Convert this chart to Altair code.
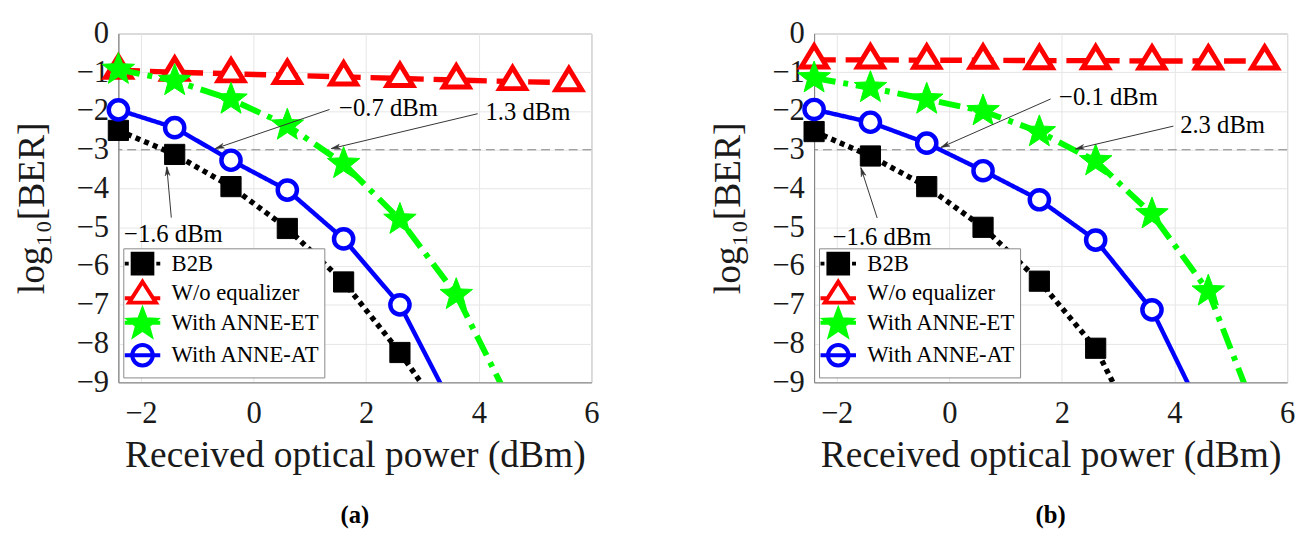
import math
import altair as alt
import pandas as pd

# ---------------- data ----------------
X_POWER = [-2.4, -1.4, -0.4, 0.6, 1.6, 2.6, 3.6, 4.6, 5.6]
SERIES = ["B2B", "W/o equalizer", "With ANNE-ET", "With ANNE-AT"]
X_TICKS = [-2, 0, 2, 4, 6]
Y_TICKS = [0, -1, -2, -3, -4, -5, -6, -7, -8, -9]
THRESHOLD = [-3]

# panel (a)
A_B2B = [-2.50, -3.12, -3.95, -5.03, -6.41, -8.23, -10.31]
A_WOEQ = [-0.95, -1.00, -1.04, -1.08, -1.12, -1.16, -1.20, -1.24, -1.27]
A_ET = [-0.93, -1.22, -1.70, -2.37, -3.36, -4.80, -6.74, -9.64]
A_AT = [-1.97, -2.43, -3.27, -4.04, -5.30, -7.00, -9.82]

A_ANN_TEXT = ["\u22120.7 dBm", "1.3 dBm", "\u22121.6 dBm"]
A_ANN_TX = [1.52, 4.12, -2.30]
A_ANN_TY = [-1.92, -2.04, -5.18]
A_ARR_X0 = [1.35, 3.98, -1.46]
A_ARR_Y0 = [-1.96, -2.07, -4.75]
A_ARR_X1 = [-0.68, 1.38, -1.54]
A_ARR_Y1 = [-2.97, -2.97, -3.44]

# panel (b)
B_B2B = [-2.53, -3.16, -3.95, -5.00, -6.39, -8.12, -11.00]
B_WOEQ = [-0.68, -0.68, -0.69, -0.69, -0.70, -0.70, -0.71, -0.71, -0.71]
B_ET = [-1.15, -1.40, -1.70, -2.00, -2.54, -3.29, -4.66, -6.65, -10.38]
B_AT = [-1.96, -2.29, -2.83, -3.54, -4.29, -5.33, -7.13, -10.10]

B_ANN_TEXT = ["\u22120.1 dBm", "2.3 dBm", "\u22121.6 dBm"]
B_ANN_TX = [1.95, 4.10, -2.07]
B_ANN_TY = [-1.63, -2.36, -5.25]
B_ARR_X0 = [1.80, 3.98, -1.28]
B_ARR_Y0 = [-1.69, -2.39, -4.76]
B_ARR_X1 = [-0.15, 2.24, -1.57]
B_ARR_Y1 = [-2.94, -2.98, -3.46]

# ---------------- style ----------------
W, H = 480, 354
XDOM = [-2.4, 6]
YDOM = [-9, 0]
FONT = "Liberation Serif"


def star_path(R, ratio=0.42, dy=0.0):
    pts = []
    for k in range(10):
        a = math.radians(-90 + 36 * k)
        r = R if k % 2 == 0 else R * ratio
        pts.append(f"{r * math.cos(a):.3f},{r * math.sin(a) + dy:.3f}")
    return "M" + "L".join(pts) + "Z"


TRI = "M0,-1.1L1,0.55L-1,0.55Z"
STAR = star_path(1.0)
ARROW = "M0,0L-0.5,1.8L0,1.3L0.5,1.8Z"

# legend symbols drawn at symbolSize 256 (unit = 8 px)
LEG_PATHS = [
    "M-1.25,-1.25H1.25V1.25H-1.25Z M-2.25,0H-1.75 M1.75,0H2.25",
    "M0,-1.45L1.7,1.2L-1.7,1.2Z M-2.25,0.65H-1.4 M1.4,0.65H2.25",
    star_path(1.75, dy=0.15) + " M-2.25,0H-1.1 M1.1,0H2.25",
    "M1.3,0A1.3,1.3,0,1,1,-1.3,0A1.3,1.3,0,1,1,1.3,0Z M-2.25,0H2.25",
]
LEG_FILL = ["black", "white", "#00ff00", "white"]
LEG_STROKE = ["black", "#ff0000", "#00ff00", "#0000ff"]

STYLES = [
    dict(color="black", lw=5.5, dash=[5, 4.5], shape="square", size=420, fill="black", stroke="black", sw=1),
    dict(color="#ff0000", lw=5.5, dash=[22, 10], shape=TRI, size=680, fill="white", stroke="#ff0000", sw=5),
    dict(color="#00ff00", lw=6, dash=[22, 8, 5, 8], shape=STAR, size=1200, fill="#00ff00", stroke="#00ff00", sw=1),
    dict(color="#0000ff", lw=4.5, dash=[1, 0], shape="circle", size=380, fill="white", stroke="#0000ff", sw=4.5),
]

XS = alt.Scale(domain=XDOM, nice=False, zero=False)
YS = alt.Scale(domain=YDOM, nice=False, zero=False)
XAX = alt.Axis(values=X_TICKS, title="Received optical power (dBm)", labelFlush=False, zindex=0)
YAX = alt.Axis(values=Y_TICKS, title="log\u2081\u2080[BER]", labelFlush=False, zindex=0)


def X(f):
    return alt.X(f"{f}:Q", scale=XS, axis=XAX)


def Y(f):
    return alt.Y(f"{f}:Q", scale=YS, axis=YAX)


def panel(values, tx, ty, texts, x0, y0, x1, y1, tag):
    layers = []
    layers.append(
        alt.Chart(pd.DataFrame({"y": THRESHOLD}))
        .mark_rule(color="#7f7f7f", strokeWidth=1, strokeDash=[9, 5])
        .encode(y=Y("y"))
    )
    for vals, st in zip(values, STYLES):
        df = pd.DataFrame({"x": X_POWER[: len(vals)], "y": vals})
        layers.append(
            alt.Chart(df)
            .mark_line(color=st["color"], strokeWidth=st["lw"], strokeDash=st["dash"],
                       strokeCap="butt", clip=True)
            .encode(x=X("x"), y=Y("y"))
        )
        layers.append(
            alt.Chart(df)
            .transform_filter("datum.y >= -9")
            .mark_point(shape=st["shape"], size=st["size"], filled=True, fill=st["fill"],
                        stroke=st["stroke"], strokeWidth=st["sw"], opacity=1)
            .encode(x=X("x"), y=Y("y"))
        )
    xpx = W / (XDOM[1] - XDOM[0])
    ypx = H / (YDOM[1] - YDOM[0])
    ang = []
    for a, b, c, d in zip(x0, y0, x1, y1):
        dx = (c - a) * xpx
        dy = -(d - b) * ypx
        ang.append(math.degrees(math.atan2(dx, -dy)) % 360)
    adf = pd.DataFrame({"tx": tx, "ty": ty, "text": texts, "x0": x0, "y0": y0,
                        "x1": x1, "y1": y1, "ang": ang})
    layers.append(
        alt.Chart(adf).mark_rule(color="#333333", strokeWidth=1)
        .encode(x=X("x0"), y=Y("y0"), x2="x1:Q", y2="y1:Q")
    )
    layers.append(
        alt.Chart(adf).mark_point(shape=ARROW, size=100, filled=True, fill="#333333",
                                  stroke="#333333", strokeWidth=0.5, opacity=1)
        .encode(x=X("x1"), y=Y("y1"), angle=alt.Angle("ang:Q", scale=None))
    )
    layers.append(
        alt.Chart(adf).mark_text(align="left", baseline="middle", font=FONT, fontSize=25,
                                 color="black")
        .encode(x=X("tx"), y=Y("ty"), text="text:N")
    )
    leg = alt.Legend(title=None, orient="bottom-left", offset=5, labelFont=FONT,
                     labelFontSize=23, labelColor="black", symbolSize=256,
                     symbolStrokeWidth=4, symbolOpacity=1, strokeColor="#888888",
                     fillColor="white", padding=4, rowPadding=-10, labelOffset=18,
                     symbolOffset=4)
    layers.append(
        alt.Chart(pd.DataFrame({"series": SERIES}))
        .transform_filter("false")
        .mark_point(filled=True, opacity=1, strokeWidth=4)
        .encode(
            shape=alt.Shape("series:N", scale=alt.Scale(domain=SERIES, range=LEG_PATHS), legend=leg),
            fill=alt.Fill("series:N", scale=alt.Scale(domain=SERIES, range=LEG_FILL), legend=leg),
            stroke=alt.Stroke("series:N", scale=alt.Scale(domain=SERIES, range=LEG_STROKE), legend=leg),
        )
    )
    return alt.layer(*layers).properties(
        width=W, height=H,
        title=alt.TitleParams(text=tag, orient="bottom", anchor="middle", font=FONT,
                              fontSize=25, fontWeight="bold", color="black", offset=30),
    )


pa = panel([A_B2B, A_WOEQ, A_ET, A_AT], A_ANN_TX, A_ANN_TY, A_ANN_TEXT,
           A_ARR_X0, A_ARR_Y0, A_ARR_X1, A_ARR_Y1, "(a)")
pb = panel([B_B2B, B_WOEQ, B_ET, B_AT], B_ANN_TX, B_ANN_TY, B_ANN_TEXT,
           B_ARR_X0, B_ARR_Y0, B_ARR_X1, B_ARR_Y1, "(b)")

chart = (
    alt.hconcat(pa, pb, spacing=110)
    .resolve_scale(shape="independent", fill="independent", stroke="independent")
    .resolve_legend(shape="independent", fill="independent", stroke="independent")
    .properties(padding={"left": 5, "top": 5, "right": 0, "bottom": 0})
    .configure(font=FONT, background="white")
    .configure_axis(labelFont=FONT, labelFontSize=31, labelColor="#1a1a1a",
                    titleFont=FONT, titleFontSize=38, titleFontWeight="normal",
                    titleColor="#1a1a1a", gridColor="#e6e6e6", domainColor="#808080",
                    tickSize=0)
    .configure_axisY(labelPadding=10, titlePadding=25)
    .configure_axisX(labelPadding=17, titlePadding=8)
    .configure_legend(labelFont=FONT, labelFontSize=23, labelColor="black")
    .configure_title(font=FONT)
    .configure_view(stroke="#a0a0a0")
)

chart.save("out.html", embed_options={"renderer": "svg", "actions": False})
